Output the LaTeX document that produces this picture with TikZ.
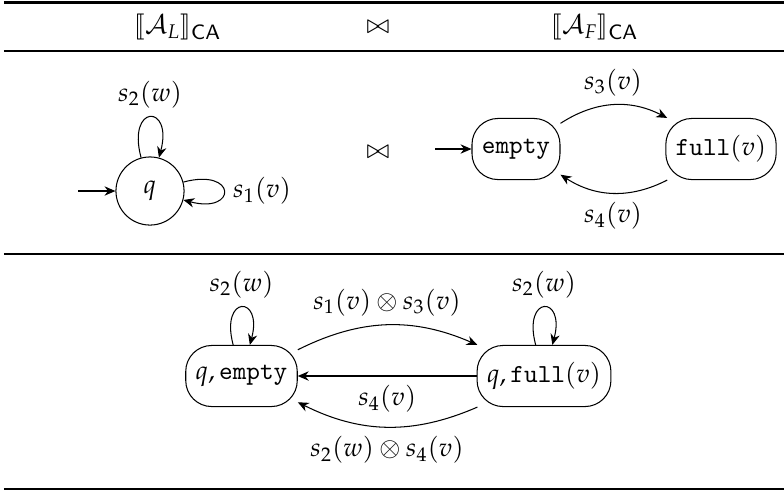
\documentclass[tikz,border=0pt]{standalone}
\usepackage{mathpazo}
\usepackage{stmaryrd}
\usetikzlibrary{arrows.meta}
\begin{document}
\begin{tikzpicture}[x=0.3846pt,y=0.3846pt,
  >={Stealth[length=4.2pt,width=3.6pt]},
  circstate/.style={draw,circle,minimum size=26.2pt,inner sep=0pt},
  boxstate/.style={draw,rounded corners=10pt,minimum height=23.5pt,inner xsep=3.8pt},
  thickrule/.style={line width=0.8pt},
  thinrule/.style={line width=0.65pt}]
\useasboundingbox (0,0) rectangle (784,-492);
% rules
\coordinate (r1l) at (4,-2.5);  \coordinate (r1r) at (784,-2.5);
\coordinate (r2l) at (4,-51);   \coordinate (r2r) at (784,-51);
\coordinate (r3l) at (4,-254);  \coordinate (r3r) at (784,-254);
\coordinate (r4l) at (4,-489);  \coordinate (r4r) at (784,-489);
\draw[thickrule] (r1l) -- (r1r);
\draw[thinrule] (r2l) -- (r2r);
\draw[thinrule] (r3l) -- (r3r);
\draw[thickrule] (r4l) -- (r4r);
% header
\node (hL) at (178,-27) {$\llbracket\mathcal{A}_L\rrbracket_{\mathsf{CA}}$};
\node (hJ) at (378,-27) {$\bowtie$};
\node (hF) at (595,-27) {$\llbracket\mathcal{A}_F\rrbracket_{\mathsf{CA}}$};
% A_L
\node[circstate] (q) at (150,-191) {$q$};
\coordinate (qin) at (78,-191);
\draw[->] (qin) -- (q);
\draw[->] (q) to[loop above] node[above] {$s_2(w)$} (q);
\draw[->] (q) to[loop right] node[right] {$s_1(v)$} (q);
% join
\node (j2) at (378,-152) {$\bowtie$};
% A_F
\node[boxstate] (e) at (516,-149) {\texttt{empty}};
\node[boxstate] (f) at (721,-149) {\texttt{full}$(v)$};
\coordinate (ein) at (435,-149);
\draw[->] (ein) -- (e);
\draw[->] (e) to[bend left=30] node[above] {$s_3(v)$} (f);
\draw[->] (f) to[bend left=30] node[below] {$s_4(v)$} (e);
% product
\node[boxstate] (qe) at (241.5,-376) {$q,\texttt{empty}$};
\node[boxstate] (qf) at (544,-376) {$q,\texttt{full}(v)$};
\draw[->] (qe) to[loop above] node[above] {$s_2(w)$} (qe);
\draw[->] (qf) to[loop above] node[above] {$s_2(w)$} (qf);
\draw[->] (qe) to[bend left=25] node[above] {$s_1(v)\otimes s_3(v)$} (qf);
\draw[->] (qf) -- node[below] {$s_4(v)$} (qe);
\draw[->] (qf) to[bend left=25] node[below] {$s_2(w)\otimes s_4(v)$} (qe);
\end{tikzpicture}
\end{document}
